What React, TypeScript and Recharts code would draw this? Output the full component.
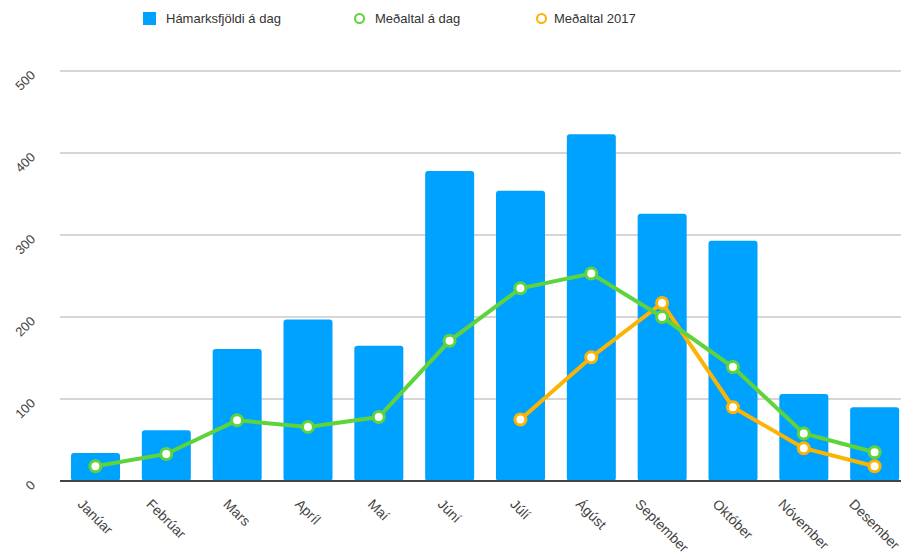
import React from "react";
import { ComposedChart, Bar, Line, XAxis, YAxis, CartesianGrid } from "recharts";

const months = [
  "Janúar", "Febrúar", "Mars", "Apríl", "Maí", "Júní",
  "Júlí", "Ágúst", "September", "Október", "Nóvember", "Desember",
];
const maxPerDay = [34, 62, 161, 197, 165, 378, 354, 423, 326, 293, 106, 90];
const avgPerDay = [18, 33, 74, 66, 78, 171, 235, 253, 200, 139, 58, 35];
const avg2017: (number | null)[] = [null, null, null, null, null, null, 75, 151, 217, 90, 40, 18];
const yTicks = [0, 100, 200, 300, 400, 500];

const data = months.map((m, i) => ({
  name: m,
  max: maxPerDay[i],
  avg: avgPerDay[i],
  avg17: avg2017[i],
}));

const BLUE = "#00a2ff";
const GREEN = "#5ed33c";
const ORANGE = "#fbb403";
const FONT = "'Liberation Sans', Arial, sans-serif";

let ctx: CanvasRenderingContext2D | null = null;
function textWidth(s: string, size: number) {
  if (!ctx) ctx = document.createElement("canvas").getContext("2d");
  if (!ctx) return s.length * size * 0.55;
  ctx.font = `${size}px ${FONT}`;
  return ctx.measureText(s).width;
}

const XTick = (props: any) => {
  const { x, payload } = props;
  const size = 14;
  const w = textWidth(payload.value, size);
  const sx = x - (w * 0.707) / 2 - size * 0.25;
  const sy = 505;
  return (
    <text
      x={sx}
      y={sy}
      transform={`rotate(45, ${sx}, ${sy})`}
      fontSize={size}
      fontFamily={FONT}
      fill="#444"
      textAnchor="start"
    >
      {payload.value}
    </text>
  );
};

const YTick = (props: any) => {
  const { y, payload } = props;
  const ax = 36;
  const ay = y + 5;
  return (
    <text
      x={ax}
      y={ay}
      transform={`rotate(-45, ${ax}, ${ay})`}
      fontSize={13}
      fontFamily={FONT}
      fill="#444"
      textAnchor="end"
    >
      {payload.value}
    </text>
  );
};

function LegendRow() {
  const item = { position: "absolute" as const, top: 11, fontSize: 13, fontFamily: FONT, color: "#333", whiteSpace: "nowrap" as const, lineHeight: "16px" };
  return (
    <>
      <div style={{ position: "absolute", left: 143, top: 12, width: 13, height: 13, background: BLUE }} />
      <div style={{ ...item, left: 166 }}>Hámarksfjöldi á dag</div>
      <div style={{ position: "absolute", left: 354, top: 13, width: 7, height: 7, borderRadius: "50%", border: `2.5px solid ${GREEN}`, background: "#fff" }} />
      <div style={{ ...item, left: 375 }}>Meðaltal á dag</div>
      <div style={{ position: "absolute", left: 536, top: 13, width: 7, height: 7, borderRadius: "50%", border: `2.5px solid ${ORANGE}`, background: "#fff" }} />
      <div style={{ ...item, left: 554 }}>Meðaltal 2017</div>
    </>
  );
}

export default function App() {
  return (
    <div style={{ position: "fixed", left: 0, top: 0, width: 901, height: 558, overflow: "hidden", background: "#fff" }}>
      <LegendRow />
      <ComposedChart width={912} height={558} data={data} margin={{ top: 71, right: 2, left: 0, bottom: 0 }}>
        <CartesianGrid vertical={false} stroke="#c8c8c8" strokeWidth={1.5} />
        <XAxis
          dataKey="name"
          height={77}
          interval={0}
          tick={<XTick />}
          tickLine={false}
          axisLine={{ stroke: "#444", strokeWidth: 2 }}
        />
        <YAxis
          width={60}
          domain={[0, 500]}
          ticks={yTicks}
          tick={<YTick />}
          tickLine={false}
          axisLine={false}
        />
        <Bar dataKey="max" fill={BLUE} barSize={49} radius={3} isAnimationActive={false} />
        <Line
          dataKey="avg17"
          stroke={ORANGE}
          strokeWidth={4}
          dot={{ r: 5.5, fill: "#fff", stroke: ORANGE, strokeWidth: 3 }}
          isAnimationActive={false}
        />
        <Line
          dataKey="avg"
          stroke={GREEN}
          strokeWidth={4}
          dot={{ r: 5.5, fill: "#fff", stroke: GREEN, strokeWidth: 3 }}
          isAnimationActive={false}
        />
      </ComposedChart>
    </div>
  );
}
